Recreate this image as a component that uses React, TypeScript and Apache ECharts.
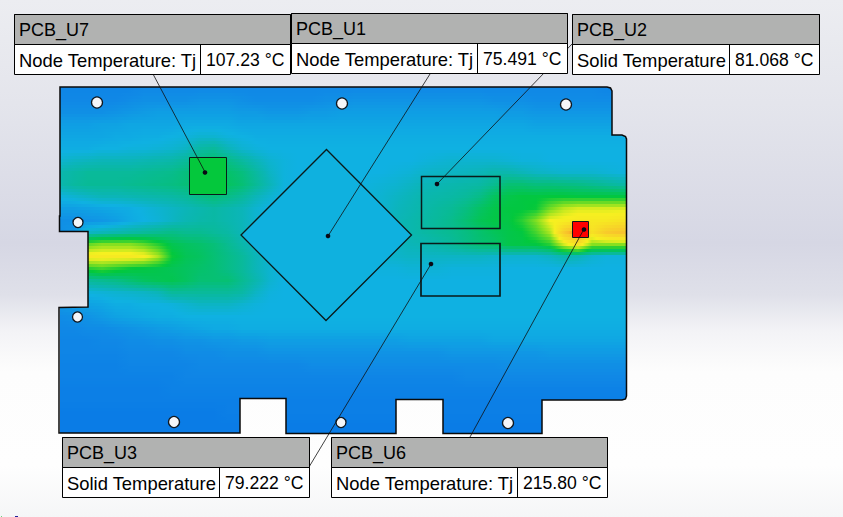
import React, { useEffect, useRef } from "react";
import * as echarts from "echarts";

// Callout tables
const calloutNames = ["PCB_U7", "PCB_U1", "PCB_U2", "PCB_U3", "PCB_U6"];
const calloutLabels = ["Node Temperature: Tj", "Node Temperature: Tj", "Solid Temperature", "Solid Temperature", "Node Temperature: Tj"];
const calloutTexts = ["107.23 °C", "75.491 °C", "81.068 °C", "79.222 °C", "215.80 °C"];

// Temperature field (°C-like colour-scale values)
const r00 = [63,63,63,63,63,63,64,64,64,64,64,64,64,64,64,64,64,64,64,64,64,64,64,64,64,64,64,64,64,64,64,64,64,64,64,64,64,64,64,63,63,63];
const r01 = [64,64,64,64,64,65,66,66,66,66,67,67,67,66,65,65,65,65,65,66,66,67,67,67,67,67,67,67,67,67,67,66,66,66,65,65,65,65,65,65,65,65];
const r02 = [66,66,66,66,67,68,69,70,70,70,70,70,70,69,69,68,68,68,69,69,70,70,70,70,70,70,70,70,70,70,70,70,69,69,68,68,68,68,68,68,68,68];
const r03 = [70,70,70,71,71,72,72,72,72,73,73,73,73,72,72,72,72,72,72,72,72,72,72,72,72,72,72,72,72,72,72,72,72,72,71,71,71,71,71,71,71,71];
const r04 = [72,72,72,72,73,73,74,74,75,76,78,78,76,75,74,74,74,74,74,74,74,74,74,74,74,74,74,74,74,74,74,74,74,74,74,74,74,74,74,74,74,74];
const r05 = [74,74,74,75,75,76,76,77,78,80,86,88,82,78,76,75,75,75,75,75,75,75,75,75,75,75,75,75,75,75,75,75,75,75,75,75,75,75,75,75,75,75];
const r06 = [78,80,81,82,82,82,83,84,85,88,94,96,92,87,82,78,76,75,75,75,75,75,75,75,75,75,76,77,78,78,78,78,77,76,76,75,75,75,75,75,75,75];
const r07 = [84,86,88,88,88,88,89,90,91,94,99,100,98,94,87,80,76,75,75,75,75,75,75,75,76,77,79,80,80,81,82,84,84,82,80,79,78,78,78,77,76,76];
const r08 = [84,87,89,89,89,90,91,92,93,95,100,101,100,96,89,82,76,75,75,75,75,75,76,77,78,80,82,83,84,85,86,90,96,96,94,94,93,92,90,88,86,86];
const r09 = [76,78,80,82,82,83,84,85,86,88,92,95,92,88,82,78,75,75,75,75,75,75,77,78,80,82,84,85,86,88,92,100,104,106,106,107,107,106,106,106,106,106];
const r10 = [70,70,71,72,73,74,76,78,80,82,84,86,84,82,78,75,75,75,75,75,75,76,77,78,81,83,85,87,89,93,99,104,106,106,108,122,132,136,136,136,136,136];
const r11 = [66,66,67,68,70,73,75,77,80,83,85,86,84,82,78,75,75,75,75,75,75,76,78,80,82,84,86,88,91,96,102,105,105,112,124,140,142,145,145,145,148,148];
const r12 = [66,68,80,82,84,86,88,90,92,90,90,88,86,82,78,75,75,75,75,75,75,76,78,80,82,84,86,88,90,93,97,101,104,106,116,130,165,185,150,165,170,170];
const r13 = [78,80,120,125,125,125,120,112,103,100,98,95,90,85,80,76,75,75,75,75,75,75,76,78,80,82,83,85,88,92,96,98,104,105,106,112,135,150,125,125,125,125];
const r14 = [80,80,145,145,145,145,142,130,108,102,100,96,92,88,82,78,75,75,75,75,75,75,76,78,79,80,80,80,80,80,80,79,78,78,78,80,84,82,78,76,76,76];
const r15 = [80,80,112,116,112,108,106,104,102,100,98,96,92,88,82,78,75,75,75,75,75,75,75,76,76,77,77,77,76,76,76,76,75,75,75,75,75,75,75,75,75,75];
const r16 = [76,76,88,90,92,96,100,102,103,100,96,96,96,90,84,78,75,75,75,75,75,75,75,75,75,75,75,75,75,75,75,75,75,75,75,75,75,75,75,75,75,75];
const r17 = [72,72,76,77,78,79,80,82,88,88,88,88,88,86,80,76,75,75,75,75,75,75,75,75,75,75,75,75,75,75,75,75,75,75,75,75,75,75,75,75,75,75];
const r18 = [68,69,71,72,74,74,75,75,76,78,80,80,80,78,76,75,75,75,75,75,75,75,75,75,75,75,75,75,75,75,75,75,75,75,75,75,75,75,75,75,75,75];
const r19 = [65,66,67,69,71,72,73,74,74,75,75,75,75,75,75,75,75,75,75,75,75,75,75,75,75,75,75,75,75,75,75,75,75,75,75,75,75,75,75,75,75,75];
const r20 = [64,64,65,65,66,67,68,69,70,71,72,73,73,74,74,74,74,74,74,74,74,74,74,74,74,74,74,74,74,74,74,74,74,74,74,74,74,74,74,74,74,74];
const r21 = [63,63,63,64,64,65,65,66,66,67,67,68,68,69,69,70,70,70,70,70,70,70,70,70,70,71,71,71,71,71,71,72,72,72,72,72,72,72,72,72,72,72];
const r22 = [63,63,63,63,63,64,64,64,64,65,65,65,66,66,66,67,67,67,67,67,67,67,67,67,67,67,67,67,68,68,68,68,68,68,68,69,69,69,69,69,69,69];
const r23 = [62,62,62,62,62,63,63,63,63,63,64,64,64,64,64,64,64,64,65,65,65,65,65,65,65,65,65,65,65,65,65,65,66,66,66,66,66,66,66,66,66,66];
const r24 = [62,62,62,62,62,62,62,62,62,63,63,63,63,63,63,63,63,63,63,63,63,63,63,63,63,63,63,63,63,64,64,64,64,64,64,64,64,64,64,64,64,64];
const r25 = [61,61,61,61,61,61,61,61,62,62,62,62,62,62,62,62,62,62,62,62,62,62,62,62,62,62,62,62,62,62,62,62,62,62,62,62,62,62,62,62,62,62];
const r26 = [61,61,61,61,61,61,61,61,61,61,61,61,61,61,61,61,61,61,61,61,61,61,61,61,61,61,61,61,61,61,61,61,61,61,61,61,61,61,61,61,61,61];
const r27 = [60,60,60,60,60,60,60,60,60,60,60,60,61,61,61,61,61,61,61,61,61,61,61,61,61,61,61,61,61,61,61,61,61,61,61,61,61,61,61,61,61,61];
const r28 = [60,60,60,60,60,60,60,60,60,60,60,60,60,60,60,60,60,60,60,60,60,60,60,60,60,60,60,60,60,60,60,60,60,60,60,60,60,60,60,60,60,60];
const r29 = [60,60,60,60,60,60,60,60,60,60,60,60,60,60,60,60,60,60,60,60,60,60,60,60,60,60,60,60,60,60,60,60,60,60,60,60,60,60,60,60,60,60];
const fieldRows = [r00,r01,r02,r03,r04,r05,r06,r07,r08,r09,r10,r11,r12,r13,r14,r15,r16,r17,r18,r19,r20,r21,r22,r23,r24,r25,r26,r27,r28,r29];

// Drawing geometry and colour scale (kept apart from the values)
const FIELD_X0 = 60, FIELD_DX = 14, FIELD_Y0 = 87, FIELD_DY = 12, SUB_Y = 4, SUB_X = 3;
const scaleTemps = [60, 64, 75, 82, 95, 107, 125, 140, 170, 216];
const scaleColors = ["#0a7ce6", "#1088e6", "#0fb1e2", "#0bb5b8", "#06bf78", "#02c83c", "#86e020", "#f6f020", "#f8c42c", "#ff0000"];
const boardOutline = [[60,87],[607,87],[610.5,88],[612,91],[612,135],[622,135],[625.5,136.5],[626.5,139],[626.5,396],[625.5,399],[622,400],[542,400],[542,433.5],[443,433.5],[443,399.5],[396,399.5],[396,433.5],[286,433.5],[286,398.5],[240,398.5],[240,433],[59,433],[59,307.5],[88,307],[88,231.5],[59.5,231.5],[59.5,216],[60,216]];
const holes = [[97,102.5,5.5],[78,222.5,5],[77.5,317,5],[174,422,5.5],[341,422.5,5],[508,423,5.5],[342,103.5,5.5],[566,104.5,5.5]];
const packageShapes: { pts: number[][]; temp: number | null; w: number }[] = [
  { pts: [[189.5,157.5],[226.5,157.5],[226.5,194.5],[189.5,194.5]], temp: 107.23, w: 1 },
  { pts: [[326.5,149.5],[411.5,235],[326,320.5],[241,235]], temp: 75.491, w: 1.3 },
  { pts: [[421.5,176.5],[500,176.5],[500,228.5],[421.5,228.5]], temp: null, w: 1.5 },
  { pts: [[421,243.5],[500,243.5],[500,296],[421,296]], temp: null, w: 1.7 },
  { pts: [[572.5,221.5],[588.5,221.5],[588.5,237.5],[572.5,237.5]], temp: 215.8, w: 1 },
];
const leaders = [[153,74,205,172],[430,74,328,236],[572,44,437,184],[309,467,431,264],[470,437,584,229]];
const leaderDots = [[205,172.5],[328,236],[437,184],[431,264],[584,229.5]];
const boxes = [
  { x: 14.5, y: 14.5, w: 276, h: 60, div: 200.5, head: 30 },
  { x: 291.5, y: 13.5, w: 276, h: 60, div: 477.5, head: 30 },
  { x: 572.5, y: 14.5, w: 247, h: 60, div: 729.5, head: 30 },
  { x: 62.5, y: 437.5, w: 247, h: 60, div: 219.5, head: 30 },
  { x: 331.5, y: 437.5, w: 276, h: 60, div: 517.5, head: 30 },
];

function tempColor(v: number): string {
  if (v <= scaleTemps[0]) return scaleColors[0];
  for (let k = 1; k < scaleTemps.length; k++) {
    if (v <= scaleTemps[k]) {
      const t = (v - scaleTemps[k - 1]) / (scaleTemps[k] - scaleTemps[k - 1]);
      return echarts.color.lerp(t, [scaleColors[k - 1], scaleColors[k]]) as string;
    }
  }
  return scaleColors[scaleColors.length - 1];
}

function toPts(api: any, pts: number[][]) {
  return pts.map((p) => api.coord(p));
}

function buildOption() {
  const cols = r00.length;
  const xEnd = FIELD_X0 + FIELD_DX * (cols - 1);
  const graphics: any[] = [
    { type: "rect", z: 100, shape: { x: 15, y: 516, width: 3, height: 1 }, style: { fill: "#20209a" } },
    { type: "rect", z: 100, shape: { x: 1, y: 516, width: 1, height: 1 }, style: { fill: "#70d080" } },
  ];
  boxes.forEach((b, i) => {
    const font = { fontFamily: "Liberation Sans" };
    graphics.push({ type: "rect", z: 100, shape: { x: b.x, y: b.y, width: b.w, height: b.h }, style: { fill: "#ffffff", stroke: "#000", lineWidth: 1 } });
    graphics.push({ type: "rect", z: 101, shape: { x: b.x, y: b.y, width: b.w, height: b.head }, style: { fill: "#b1b2b1", stroke: "#000", lineWidth: 1 } });
    graphics.push({ type: "line", z: 101, shape: { x1: b.div, y1: b.y + b.head, x2: b.div, y2: b.y + b.h }, style: { stroke: "#000", lineWidth: 1 } });
    graphics.push({ type: "text", z: 102, style: { ...font, fontSize: 18, text: calloutNames[i], x: b.x + 4.5, y: b.y + 15, verticalAlign: "middle", fill: "#000" } });
    graphics.push({ type: "text", z: 102, style: { ...font, fontSize: 18.4, text: calloutLabels[i], x: b.x + 4.5, y: b.y + 45.5, verticalAlign: "middle", fill: "#000" } });
    graphics.push({ type: "text", z: 102, style: { ...font, fontSize: 17.6, text: calloutTexts[i], x: b.div + 5.5, y: b.y + 45.5, verticalAlign: "middle", fill: "#000" } });
  });
  return {
    animation: false,
    backgroundColor: new echarts.graphic.LinearGradient(0, 0, 0, 1, [
      { offset: 0, color: "#eceDF1" },
      { offset: 0.2, color: "#e4e5ec" },
      { offset: 0.47, color: "#d6d7e4" },
      { offset: 0.57, color: "#dfe0e9" },
      { offset: 0.64, color: "#f3f3f6" },
      { offset: 0.72, color: "#fdfdfd" },
      { offset: 0.9, color: "#fefefe" },
      { offset: 1, color: "#f5f6f7" },
    ]),
    tooltip: { show: false },
    grid: { left: 0, top: 0, right: 0, bottom: 0 },
    xAxis: { type: "value", min: 0, max: 843, show: false },
    yAxis: { type: "value", min: 0, max: 517, inverse: true, show: false },
    graphic: graphics,
    series: [
      {
        type: "custom",
        name: "temperature",
        coordinateSystem: "cartesian2d",
        clip: false,
        silent: true,
        z: 1,
        data: fieldRows.slice(0, -1).map((_, i) => [i, i]),
        renderItem(_p: any, api: any) {
          const i = api.value(0);
          const children: any[] = [];
          const a = fieldRows[i], b = fieldRows[i + 1];
          for (let s = 0; s < SUB_Y; s++) {
            const f = s / SUB_Y;
            const stops: any[] = [];
            for (let j = 0; j < cols - 1; j++) {
              for (let q = 0; q < SUB_X; q++) {
                const g = q / SUB_X;
                const top = a[j] + (a[j + 1] - a[j]) * g;
                const bot = b[j] + (b[j + 1] - b[j]) * g;
                stops.push({ offset: (j + g) / (cols - 1), color: tempColor(top + (bot - top) * f) });
              }
            }
            stops.push({ offset: 1, color: tempColor(a[cols - 1] + (b[cols - 1] - a[cols - 1]) * f) });
            const p0 = api.coord([FIELD_X0, FIELD_Y0 + FIELD_DY * (i + f)]);
            const p1 = api.coord([xEnd, FIELD_Y0 + FIELD_DY * (i + f + 1 / SUB_Y)]);
            children.push({
              type: "rect",
              shape: { x: p0[0], y: p0[1], width: p1[0] - p0[0], height: p1[1] - p0[1] + 0.6 },
              style: { fill: new echarts.graphic.LinearGradient(0, 0, 1, 0, stops) },
            });
          }
          return {
            type: "group",
            children,
            clipPath: { type: "polygon", shape: { points: toPts(api, boardOutline) } },
          };
        },
      },
      {
        type: "custom",
        name: "board",
        coordinateSystem: "cartesian2d",
        clip: false,
        silent: true,
        z: 2,
        data: [[0, 0]],
        renderItem(_p: any, api: any) {
          const children: any[] = [
            { type: "polygon", shape: { points: toPts(api, boardOutline) }, style: { fill: "none", stroke: "#0a0a0a", lineWidth: 1.5 } },
          ];
          holes.forEach((h) => {
            const c = api.coord([h[0], h[1]]);
            children.push({ type: "circle", shape: { cx: c[0], cy: c[1], r: h[2] }, style: { fill: "#f5f6f9", stroke: "#101820", lineWidth: 1.3 } });
          });
          return { type: "group", children };
        },
      },
      {
        type: "custom",
        name: "packages",
        coordinateSystem: "cartesian2d",
        clip: false,
        silent: true,
        z: 3,
        data: packageShapes.map((_, i) => [i, i]),
        renderItem(_p: any, api: any) {
          const s = packageShapes[api.value(0)];
          return {
            type: "polygon",
            shape: { points: toPts(api, s.pts) },
            style: { fill: s.temp == null ? "none" : tempColor(s.temp), stroke: "#0a1a1a", lineWidth: s.w },
          };
        },
      },
      {
        type: "custom",
        name: "leaders",
        coordinateSystem: "cartesian2d",
        clip: false,
        silent: true,
        z: 4,
        data: leaders.map((_, i) => [i, i]),
        renderItem(_p: any, api: any) {
          const i = api.value(0);
          const l = leaders[i];
          const a = api.coord([l[0], l[1]]);
          const b = api.coord([l[2], l[3]]);
          const d = api.coord(leaderDots[i]);
          return {
            type: "group",
            children: [
              { type: "line", shape: { x1: a[0], y1: a[1], x2: b[0], y2: b[1] }, style: { stroke: "#101010", lineWidth: 0.8 } },
              { type: "circle", shape: { cx: d[0], cy: d[1], r: 2.3 }, style: { fill: "#0a0a14" } },
            ],
          };
        },
      },
    ],
  };
}

export default function App() {
  const ref = useRef<HTMLDivElement>(null);
  useEffect(() => {
    const chart = echarts.init(ref.current!, undefined, { renderer: "svg" });
    chart.setOption(buildOption() as any);
    return () => chart.dispose();
  }, []);
  return <div ref={ref} style={{ position: "absolute", left: 0, top: 0, width: 843, height: 517 }} />;
}
